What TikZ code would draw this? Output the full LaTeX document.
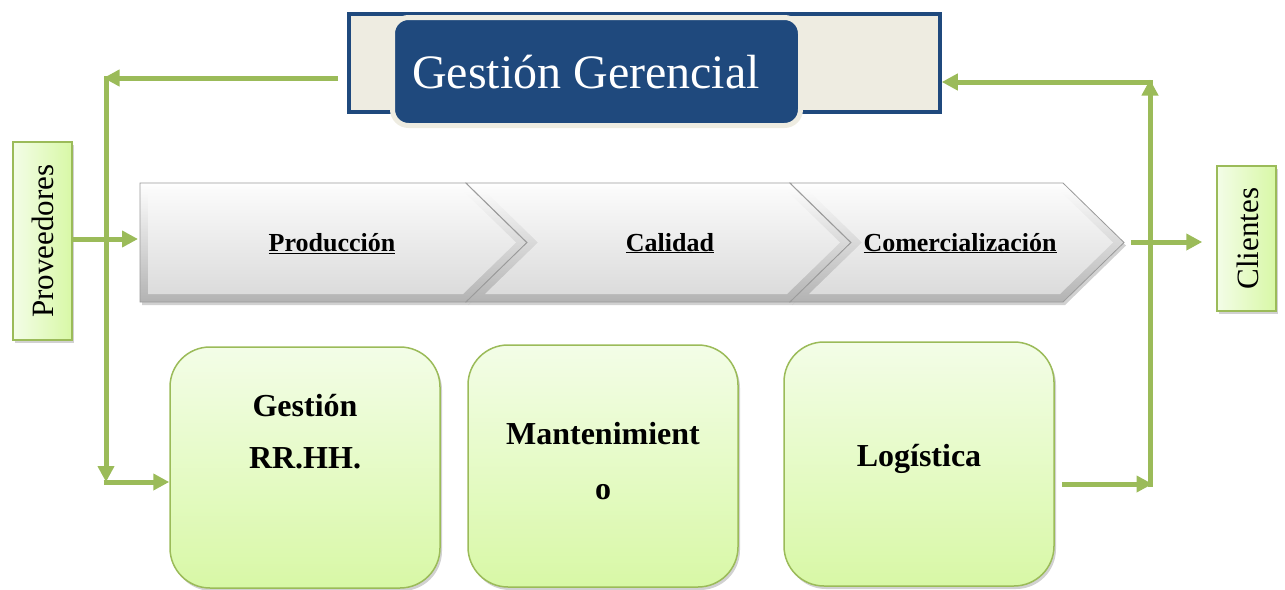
\documentclass[tikz,border=0pt]{standalone}
\usepackage{fontspec}
\setmainfont{Liberation Serif}
\usetikzlibrary{arrows.meta,shadows,calc}
\definecolor{flowgreen}{HTML}{9BBB59}
\definecolor{navy}{HTML}{1F497D}
\definecolor{paper}{HTML}{EEECE1}
\definecolor{leaflight}{HTML}{F3FDE7}
\definecolor{leafdark}{HTML}{D8F8A6}
\definecolor{bevelline}{HTML}{9A9A9A}

\begin{document}
\begin{tikzpicture}[x=1pt,y=-1pt,
  flow/.style={draw=flowgreen, line width=5pt, -{Triangle[length=16pt,width=16pt]}},
  softshadow/.style={drop shadow={shadow xshift=2pt,shadow yshift=-3pt,opacity=0.3,fill=black!60}},
  unitbox/.style={draw=flowgreen, line width=1.5pt, rounded corners=40pt,
    top color=leaflight, bottom color=leafdark, minimum width=270pt, inner sep=0pt, softshadow},
  unittext/.style={font=\bfseries\fontsize{32}{52}\selectfont, align=center},
  sidebox/.style={draw=flowgreen, line width=1.5pt, left color=leaflight, right color=leafdark,
    minimum width=59pt, inner sep=0pt, softshadow},
  sidetext/.style={rotate=90, font=\fontsize{31}{36}\selectfont},
  steptext/.style={font=\bfseries\fontsize{26}{30}\selectfont, anchor=base},
  chevouter/.style={draw=bevelline, line width=0.8pt, top color=white, bottom color=black!30, softshadow},
  chevinner/.style={top color=black!2, bottom color=black!14},
  mgmtframe/.style={draw=navy, line width=3.5pt, fill=paper, minimum width=591pt, minimum height=98pt, inner sep=0pt},
  mgmtbox/.style={draw=paper, line width=5pt, fill=navy, rounded corners=16pt, minimum width=408pt, minimum height=108pt, inner sep=0pt},
  mgmttext/.style={text=white, font=\fontsize{48}{56}\selectfont, anchor=base}
]
\useasboundingbox (0,0) rectangle (1285,589);

% management block
\node[mgmtframe] (ggframe) at (644.5,63) {};
\node[mgmtbox] (gg) at (596.5,71.5) {};
\node[mgmttext] (ggtext) at (586,88) {Gestión Gerencial};

% process chevrons (outer bevel and inner face)
\path[chevouter] (140,183) -- (466,183) -- (527,242.5) -- (466,302) -- (140,302) -- cycle;
\path[chevinner] (148,191) -- (463,191) -- (516,242.5) -- (463,294) -- (148,294) -- cycle;
\path[chevouter] (466,183) -- (790,183) -- (851,242.5) -- (790,302) -- (466,302) -- (527,242.5) -- cycle;
\path[chevinner] (485,191) -- (787,191) -- (840,242.5) -- (787,294) -- (485,294) -- (538,242.5) -- cycle;
\path[chevouter] (790,183) -- (1063,183) -- (1124,242.5) -- (1063,302) -- (790,302) -- (851,242.5) -- cycle;
\path[chevinner] (809,191) -- (1060,191) -- (1113,242.5) -- (1060,294) -- (809,294) -- (862,242.5) -- cycle;

\node[steptext] (prod) at (332,251) {\underline{Producción}};
\node[steptext] (cal) at (670,251) {\underline{Calidad}};
\node[steptext] (com) at (960,251) {\underline{Comercialización}};

\coordinate (chin) at (138,239);
\coordinate (chout) at (1131,242);

% suppliers and customers
\node[sidebox, minimum height=198pt] (prov) at (42.5,241) {};
\node[sidetext] (provtext) at (prov.center) {Proveedores};
\node[sidebox, minimum height=145pt] (cli) at (1246.5,238.5) {};
\node[sidetext] (clitext) at (1248,238.5) {Clientes};

% support units
\node[unitbox, minimum height=241pt] (rrhh) at (305,467.5) {};
\node[unittext] (rrhhtext) at (305,432) {Gestión\\RR.HH.};
\node[unitbox, minimum height=242pt] (mant) at (603,466) {};
\node[unittext] (manttext) at (603,461.5) {Mantenimient\\[3pt]o};
\node[unitbox, minimum height=244pt] (log) at (919,464) {};
\node[unittext, anchor=base] (logtext) at (919,466) {Logística};

% connector corners
\coordinate (tl) at (106,78);
\coordinate (bl) at (106,482);
\coordinate (tr) at (1150,82);
\coordinate (br) at (1150,484);
\coordinate (ggout) at (338,78);
\coordinate (logout) at (1062,484);

% flows
\draw[flow] (ggout) -- ([xshift=-2.5pt]tl);
\draw[flow] ([yshift=2.5pt]tl) -- (bl);
\draw[flow] ([xshift=-2.5pt]bl) -- (rrhh.west |- bl);
\draw[flow] (prov.east |- chin) -- (chin);
\draw[flow, shorten >=14pt] (chout) -- (cli.west |- chout);
\draw[flow] (logout) -- ([xshift=2.5pt]br);
\draw[flow] ([yshift=-2.5pt]br) -- ([yshift=2.5pt]tr);
\draw[flow] ([xshift=2.5pt]tr) -- (ggframe.east |- tr);
\end{tikzpicture}
\end{document}
